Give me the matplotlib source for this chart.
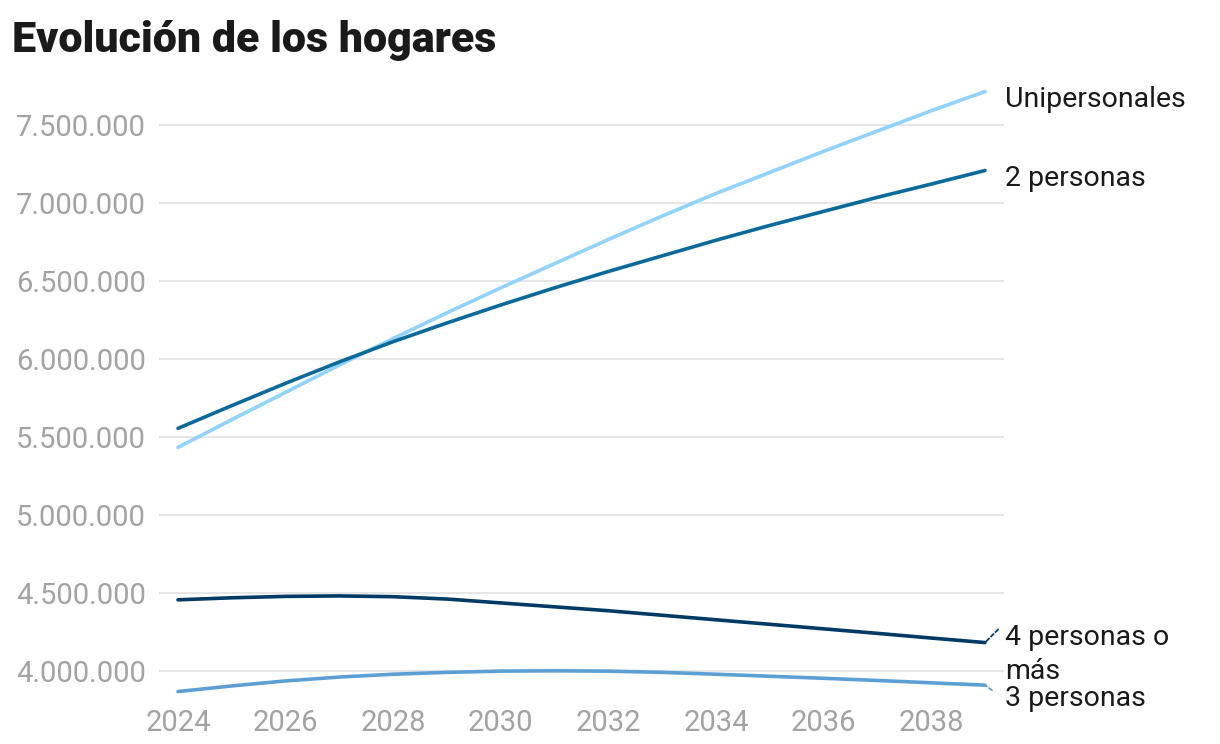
import matplotlib
matplotlib.use("Agg")
import matplotlib.pyplot as plt
from matplotlib.ticker import FuncFormatter

# ---- data ----
years = list(range(2024, 2040))
unipersonales = [5.432, 5.610, 5.785, 5.960, 6.130, 6.295, 6.455, 6.610, 6.765,
                 6.915, 7.060, 7.195, 7.330, 7.460, 7.590, 7.713]
dos_personas = [5.554, 5.700, 5.843, 5.980, 6.110, 6.230, 6.345, 6.455, 6.560,
                6.660, 6.760, 6.855, 6.945, 7.035, 7.120, 7.207]
tres_personas = [3.867, 3.903, 3.935, 3.960, 3.978, 3.990, 3.998, 4.000, 3.998,
                 3.990, 3.978, 3.965, 3.952, 3.938, 3.923, 3.908]
cuatro_mas = [4.455, 4.468, 4.477, 4.480, 4.475, 4.460, 4.435, 4.410, 4.385,
              4.356, 4.327, 4.298, 4.269, 4.240, 4.210, 4.181]
series_names = ["Unipersonales", "2 personas", "3 personas", "4 personas o\nmás"]
series_values = [unipersonales, dos_personas, tres_personas, cuatro_mas]
y_ticks = [4000000, 4500000, 5000000, 5500000, 6000000, 6500000, 7000000, 7500000]
x_ticks = [2024, 2026, 2028, 2030, 2032, 2034, 2036, 2038]

# ---- style ----
colors = ["#8fd3fe", "#0a6a9c", "#5b9fd5", "#023a66"]
label_dy = [-6, -6, -9.4, -8.6]          # label offset (pt) relative to line end
leader = [None, None, (5, -3.6), (9.4, 9.4)]
font = "Roboto"
plt.rcParams["font.family"] = [font, "DejaVu Sans"]

fig = plt.figure(figsize=(12.2, 7.44), dpi=100)
ax = fig.add_axes([159 / 1220, (744 - 702) / 744, 845 / 1220, 624 / 744])

for name, vals, c, dy, ld in zip(series_names, series_values, colors, label_dy, leader):
    yv = [v * 1e6 for v in vals]
    ax.plot(years, yv, color=c, lw=2.6, solid_capstyle="round", zorder=3)
    ax.annotate(name, xy=(years[-1], yv[-1]), xytext=(14.4, dy),
                textcoords="offset points", va="center", ha="left",
                fontsize=20.5, color="#1a1a1a", linespacing=1.3,
                annotation_clip=False)
    if ld is not None:
        ax.annotate("", xy=(years[-1], yv[-1]), xytext=ld,
                    textcoords="offset points", annotation_clip=False,
                    arrowprops=dict(arrowstyle="-", color=c, lw=1.3,
                                    linestyle=(0, (2, 1.5)),
                                    shrinkA=0, shrinkB=1))

ax.set_xlim(2024 - 19 / 53.8, 2039 + 19 / 53.8)
ax.set_ylim(3800000, 7800000)
ax.set_yticks(y_ticks)
ax.set_xticks(x_ticks)
ax.yaxis.set_major_formatter(FuncFormatter(lambda v, p: f"{int(v):,}".replace(",", ".")))
ax.grid(axis="y", color="#e6e6e6", lw=1.5, zorder=0)
ax.tick_params(axis="both", length=0, labelsize=21, labelcolor="#a3a3a3")
ax.tick_params(axis="y", pad=9.4)
ax.tick_params(axis="x", pad=5)
for s in ax.spines.values():
    s.set_visible(False)

fig.text(12 / 1220, 1 - 52 / 744, "Evolución de los hogares", fontsize=31,
         fontweight="black", color="#1a1a1a", va="baseline", ha="left")

fig.savefig("out.png", dpi=100)
